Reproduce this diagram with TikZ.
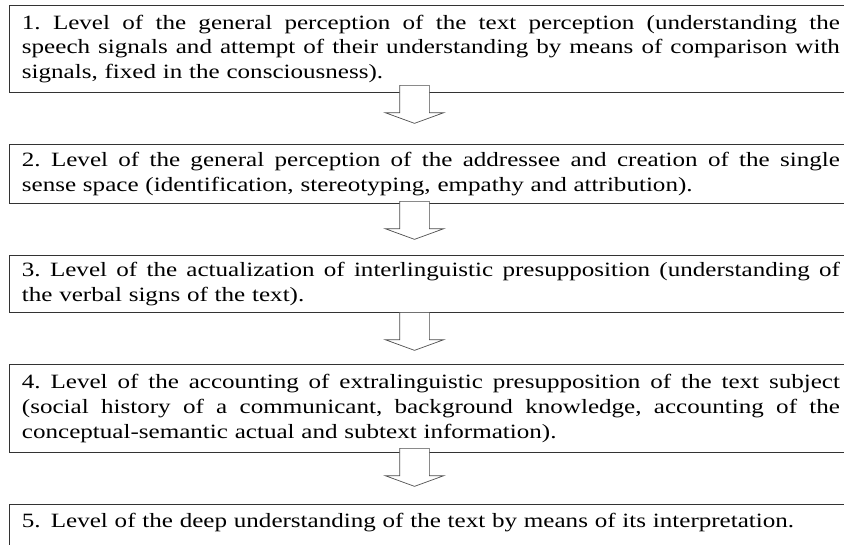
\documentclass[tikz,border=0pt]{standalone}
\usepackage{fontspec}
\setmainfont{Liberation Serif}[FakeStretch=1.235]
\usepackage{tikz}
\usetikzlibrary{shapes.arrows}
\newcommand{\fullline}[1]{{\frenchspacing\spaceskip=\fontdimen2\font plus 1fil\relax
  \makebox[818pt][s]{#1}}}

\tikzset{
  levelbox/.style={draw=black!80, line width=0.9pt, anchor=north west,
    inner xsep=12.5pt, inner ysep=0pt, text width=818pt, align=left,
    font=\fontsize{20.3}{24.8}\selectfont},
  downarrow/.style={single arrow, draw=black!70, fill=white, line width=0.7pt,
    rotate=-90, anchor=tail, minimum height=38pt, inner xsep=0pt, inner ysep=14.5pt,
    single arrow head extend=14.5pt, single arrow tip angle=140}
}

\begin{document}
\begin{tikzpicture}[x=1pt,y=-1pt]
   \useasboundingbox (0,0) rectangle (844,544);

   \node[levelbox, minimum height=87pt] (b1) at (9,5)
     {\fullline{1. Level of the general perception of the text perception (understanding the}\\
      \fullline{speech signals and attempt of their understanding by means of comparison with}\\
      signals, fixed in the consciousness).};
   \node[levelbox, minimum height=59pt] (b2) at (9,144)
     {\fullline{2. Level of the general perception of the addressee and creation of the single}\\
      sense space (identification, stereotyping, empathy and attribution).};
   \node[levelbox, minimum height=57pt] (b3) at (9,255)
     {\fullline{3. Level of the actualization of interlinguistic presupposition (understanding of}\\
      the verbal signs of the text).};
   \node[levelbox, minimum height=88pt] (b4) at (9,364)
     {\fullline{4. Level of the accounting of extralinguistic presupposition of the text subject}\\
      \fullline{(social history of a communicant, background knowledge, accounting of the}\\
      conceptual-semantic actual and subtext information).};
   \node[levelbox, inner ysep=9pt, text depth=40pt] (b5) at (9,504)
     {5. Level of the deep understanding of the text by means of its interpretation.};

   % arrows between the levels
   \node[downarrow] (a1) at (414.5,85) {};
   \node[downarrow] (a2) at (414.5,201) {};
   \node[downarrow] (a3) at (414.5,312) {};
   \node[downarrow] (a4) at (414.5,448) {};
\end{tikzpicture}
\end{document}
